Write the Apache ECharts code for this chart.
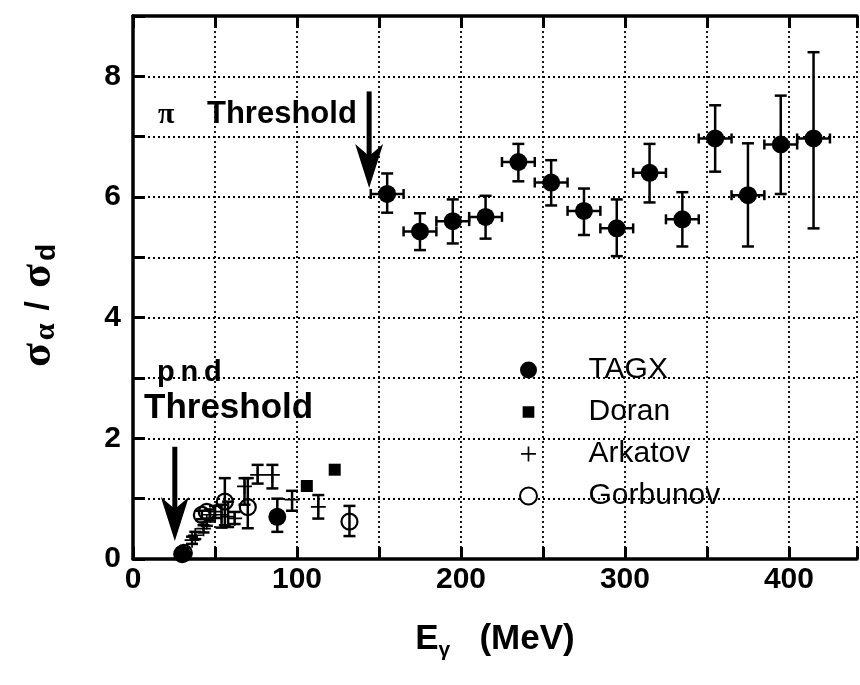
<!DOCTYPE html>
<html>
<head>
<meta charset="utf-8">
<script src="https://cdn.jsdelivr.net/npm/echarts@6/dist/echarts.min.js"></script>
<style>
  html, body { margin: 0; background: #fff; }
  #chart { width: 860px; height: 685px; }
</style>
</head>
<body>
<div id="chart"></div>
<script>
// TAGX: photon energy (MeV), ratio, error low / high, half width in energy
const tagxE  = [30, 88, 155, 175, 195, 215, 235, 255, 275, 295, 315, 335, 355, 375, 395, 415];
const tagxR  = [0.08, 0.70, 6.05, 5.43, 5.60, 5.67, 6.58, 6.24, 5.77, 5.48, 6.40, 5.63, 6.97, 6.03, 6.87, 6.97];
const tagxLo = [0.00, 0.45, 5.74, 5.12, 5.23, 5.31, 6.26, 5.86, 5.37, 5.02, 5.91, 5.18, 6.42, 5.18, 6.05, 5.48];
const tagxHi = [0.18, 1.00, 6.39, 5.73, 5.96, 6.02, 6.88, 6.61, 6.14, 5.96, 6.88, 6.08, 7.52, 6.89, 7.68, 8.40];
const tagxDE = [0, 0, 10, 10, 10, 10, 10, 10, 10, 10, 10, 10, 10, 10, 10, 10];

// Doran
const doranE = [106, 123];
const doranR = [1.21, 1.48];

// Arkatov
const arkE  = [36, 38, 43, 45, 47, 50, 54, 58, 62, 68, 76, 85, 97, 113];
const arkR  = [0.31, 0.39, 0.50, 0.61, 0.73, 0.78, 0.73, 0.70, 0.67, 1.20, 1.39, 1.39, 0.98, 0.86];
const arkLo = [0.25, 0.33, 0.44, 0.55, 0.64, 0.68, 0.52, 0.53, 0.58, 0.90, 1.25, 1.17, 0.80, 0.67];
const arkHi = [0.37, 0.45, 0.56, 0.67, 0.82, 0.88, 0.90, 0.95, 0.78, 1.34, 1.56, 1.56, 1.13, 1.06];

// Gorbunov
const gorE  = [31, 42, 45, 56, 70, 132];
const gorR  = [0.10, 0.73, 0.78, 0.95, 0.86, 0.62];
const gorLo = [0.10, 0.66, 0.78, 0.56, 0.51, 0.38];
const gorHi = [0.10, 0.80, 0.78, 1.34, 1.34, 0.88];

// threshold arrows: energy, shaft top, tip
const arrowE   = [144, 25.5];
const arrowTop = [7.75, 1.86];
const arrowTip = [6.15, 0.30];

const black = '#000';
const chart = echarts.init(document.getElementById('chart'));

function errBars(xs, ys, lo, hi, dx) {
  return xs.map((x, i) => [x, lo[i], hi[i], dx ? dx[i] : 0, ys[i]]);
}

function renderErr(params, api) {
  const x = api.value(0), lo = api.value(1), hi = api.value(2), dx = api.value(3), y = api.value(4);
  const st = { stroke: black, lineWidth: 2.5 };
  const kids = [];
  if (hi > lo) {
    const t = api.coord([x, hi]), b = api.coord([x, lo]);
    kids.push({ type: 'line', shape: { x1: t[0], y1: t[1], x2: b[0], y2: b[1] }, style: st });
    kids.push({ type: 'line', shape: { x1: t[0] - 6, y1: t[1], x2: t[0] + 6, y2: t[1] }, style: st });
    kids.push({ type: 'line', shape: { x1: b[0] - 6, y1: b[1], x2: b[0] + 6, y2: b[1] }, style: st });
  }
  if (dx > 0) {
    const l = api.coord([x - dx, y]), r = api.coord([x + dx, y]);
    kids.push({ type: 'line', shape: { x1: l[0], y1: l[1], x2: r[0], y2: r[1] }, style: st });
    kids.push({ type: 'line', shape: { x1: l[0], y1: l[1] - 5, x2: l[0], y2: l[1] + 5 }, style: st });
    kids.push({ type: 'line', shape: { x1: r[0], y1: r[1] - 5, x2: r[0], y2: r[1] + 5 }, style: st });
  }
  return { type: 'group', children: kids };
}

function renderArrow(params, api) {
  const top = api.coord([api.value(0), api.value(1)]);
  const tip = api.coord([api.value(0), api.value(2)]);
  const x = tip[0], y = tip[1];
  return {
    type: 'group',
    children: [
      { type: 'line', shape: { x1: x, y1: top[1], x2: x, y2: y - 20 }, style: { stroke: black, lineWidth: 5 } },
      { type: 'polygon', shape: { points: [[x, y], [x - 14, y - 44], [x, y - 32], [x + 14, y - 44]] }, style: { fill: black } }
    ]
  };
}

const plusPath = 'path://M0,0h0.01v0.01H0z M1,7h14v1.6H1z M7.2,1h1.6v14H7.2z M16,16h0.01v0.01H16z';
const rectPath = 'path://M0,0h0.01v0.01H0z M2.5,2.5h11v11h-11z M16,16h0.01v0.01H16z';

chart.setOption({
  animation: false,
  backgroundColor: '#fff',
  grid: { left: 133, right: 0, top: 16, bottom: 126 },
  legend: {
    orient: 'vertical',
    left: 514,
    top: 350,
    itemWidth: 110,
    itemHeight: 17,
    itemGap: 12,
    textStyle: { fontFamily: 'Liberation Sans', fontSize: 30, color: black },
    data: [
      { name: 'TAGX', icon: 'circle' },
      { name: 'Doran', icon: rectPath },
      { name: 'Arkatov', icon: plusPath },
      { name: 'Gorbunov', icon: 'circle', itemStyle: { color: '#fff', borderColor: black, borderWidth: 2 } }
    ]
  },
  xAxis: [{
    type: 'value', min: 0, max: 441.5, interval: 50, position: 'bottom',
    name: '{e|E}{g|γ}{e|   (MeV)}', nameLocation: 'middle', nameGap: 58,
    nameTextStyle: {
      rich: {
        e: { fontFamily: 'Liberation Sans', fontWeight: 'bold', fontSize: 35, color: black, lineHeight: 44 },
        g: { fontFamily: 'Liberation Sans', fontWeight: 'bold', fontSize: 21, color: black, lineHeight: 20, verticalAlign: 'bottom' }
      }
    },
    axisLine: { lineStyle: { color: black, width: 3.5 } },
    axisTick: { inside: true, length: 12, lineStyle: { color: black, width: 3 } },
    axisLabel: {
      margin: 6, color: black, fontFamily: 'Liberation Sans', fontWeight: 'bold', fontSize: 30,
      formatter: v => (v % 100 === 0 ? String(v) : '')
    },
    splitLine: { show: true, lineStyle: { color: black, width: 1.8, type: [2, 3] } }
  }, {
    type: 'value', min: 0, max: 441.5, interval: 50, position: 'top',
    axisLine: { lineStyle: { color: black, width: 3.5 } },
    axisTick: { inside: true, length: 12, lineStyle: { color: black, width: 3 } },
    axisLabel: { show: false },
    splitLine: { show: false }
  }],
  yAxis: {
    type: 'value', min: 0, max: 9, interval: 1,
    name: '{s|σ}{a|α}{sl|/}{s|σ}{d|d}{gap|}', nameLocation: 'middle', nameRotate: 90, nameGap: 72,
    nameTextStyle: {
      rich: {
        s: { fontFamily: 'Liberation Serif', fontWeight: 'bold', fontSize: 44, color: black, lineHeight: 44 },
        a: { fontFamily: 'Liberation Serif', fontWeight: 'bold', fontSize: 30, color: black, lineHeight: 24, verticalAlign: 'bottom', padding: [0, 0, 0, 3] },
        d: { fontFamily: 'Liberation Sans', fontWeight: 'bold', fontSize: 28, color: black, lineHeight: 24, verticalAlign: 'bottom', padding: [0, 0, 0, 3] },
        sl: { fontFamily: 'Liberation Sans', fontWeight: 'bold', fontSize: 34, color: black, lineHeight: 44, padding: [0, 13, 0, 13] },
        gap: { width: 36 }
      }
    },
    axisLine: { show: true, lineStyle: { color: black, width: 3.5 } },
    axisTick: { inside: true, length: 12, lineStyle: { color: black, width: 3 } },
    axisLabel: {
      margin: 12, color: black, fontFamily: 'Liberation Sans', fontWeight: 'bold', fontSize: 30,
      formatter: v => (v % 2 === 0 ? String(v) : '')
    },
    splitLine: { show: true, lineStyle: { color: black, width: 1.8, type: [2, 3] } }
  },
  graphic: [
    { type: 'text', left: 158, top: 100, style: { text: 'π', fontFamily: 'Liberation Serif', fontWeight: 'bold', fontSize: 30, fill: black } },
    { type: 'text', left: 207, top: 99, style: { text: 'Threshold', fontFamily: 'Liberation Sans', fontWeight: 'bold', fontSize: 31, fill: black } },
    { type: 'text', left: 157, top: 358, style: { text: 'p\u2009n\u2009d', fontFamily: 'Liberation Sans', fontWeight: 'bold', fontSize: 29, fill: black } },
    { type: 'text', left: 144, top: 391, style: { text: 'Threshold', fontFamily: 'Liberation Sans', fontWeight: 'bold', fontSize: 35, fill: black } }
  ],
  series: [
    { type: 'custom', renderItem: renderArrow, data: arrowE.map((e, i) => [e, arrowTop[i], arrowTip[i]]), encode: { x: 0, y: [1, 2] }, silent: true, z: 3 },
    { type: 'custom', renderItem: renderErr, data: errBars(tagxE, tagxR, tagxLo, tagxHi, tagxDE), encode: { x: 0, y: [1, 2] }, z: 3 },
    { type: 'custom', renderItem: renderErr, data: errBars(arkE, arkR, arkLo, arkHi), encode: { x: 0, y: [1, 2] }, z: 3 },
    { type: 'custom', renderItem: renderErr, data: errBars(gorE, gorR, gorLo, gorHi), encode: { x: 0, y: [1, 2] }, z: 3 },
    { name: 'TAGX', type: 'scatter', symbol: 'circle', symbolSize: 18, itemStyle: { color: black, opacity: 1 }, data: tagxE.map((e, i) => [e, tagxR[i]]), z: 4 },
    { name: 'Doran', type: 'scatter', symbol: 'rect', symbolSize: 12, itemStyle: { color: black, opacity: 1 }, data: doranE.map((e, i) => [e, doranR[i]]), z: 4 },
    { name: 'Arkatov', type: 'scatter', symbol: plusPath, symbolSize: 17, itemStyle: { color: black, opacity: 1 }, data: arkE.map((e, i) => [e, arkR[i]]), z: 4 },
    { name: 'Gorbunov', type: 'scatter', symbol: 'circle', symbolSize: 16,
      itemStyle: { color: 'rgba(255,255,255,0)', borderColor: black, borderWidth: 2.2, opacity: 1 },
      data: gorE.map((e, i) => [e, gorR[i]]), z: 4 }
  ]
});
</script>
</body>
</html>
